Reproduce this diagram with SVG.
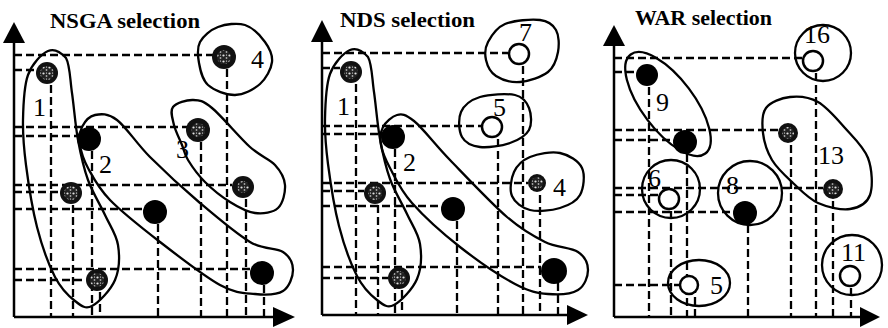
<svg xmlns="http://www.w3.org/2000/svg" width="888" height="328" viewBox="0 0 888 328">
<style>
.title{font-family:"Liberation Serif","Times New Roman",serif;font-weight:bold;font-size:20px;fill:#000}
.lbl{font-family:"Liberation Serif","Times New Roman",serif;font-size:26px;fill:#000}
.axis{stroke:#000;stroke-width:2.5;fill:none}
.arr{fill:#000}
.dash{stroke:#000;stroke-width:2.3;stroke-dasharray:8 4;fill:none}
.loop{stroke:#000;stroke-width:2.3;fill:none}
.blk{fill:#000}
.gry{fill:#111}
.spk{fill:url(#spk)}
.open{fill:#fff;stroke:#000;stroke-width:2.5}
</style>
<defs>
<pattern id="spk" width="6" height="6" patternUnits="userSpaceOnUse">
<rect width="6" height="6" fill="#222"/>
<circle cx="1.5" cy="1.5" r="1.1" fill="#e0e0e0"/>
<circle cx="4.5" cy="4" r="0.9" fill="#aaa"/>
<circle cx="4.5" cy="1" r="0.6" fill="#fff"/>
</pattern>
</defs>
<rect width="888" height="328" fill="#fff"/>

<!-- ===== Panel 1: NSGA ===== -->
<g id="panel1-axes">
<text class="title" x="50" y="28" textLength="150" lengthAdjust="spacingAndGlyphs">NSGA selection</text>
<line class="axis" x1="14" y1="40" x2="14" y2="317"/>
<polygon class="arr" points="14,22 3,43 25,43"/>
<line class="axis" x1="14" y1="317" x2="276" y2="317"/>
<polygon class="arr" points="295,317 273,307 273,327"/>
</g>
<g id="connectors">
<!-- panel 1 -->
<path class="dash" d="M14 55H214M14 70H37M14 127H187M14 136H78M14 185H232M14 192H60M14 209H143M14 269H250M14 280H86"/>
<path class="dash" d="M51 73V317M73 193V317M92 139V317M100 280V317M158 212V317M201 130V317M227 57V317M246 187V317M264 273V317"/>
<!-- panel 2 -->
<path class="dash" d="M322 53H508M322 68H340M322 126H482M322 134H381M322 183H528M322 191H364M322 206H441M322 267H541M322 278H388"/>
<path class="dash" d="M356 72V315M378 193V315M395 137V315M402 278V315M457 209V315M498 127V315M523 54V315M540 183V315M558 271V315"/>
<!-- panel 3 -->
<path class="dash" d="M614 58H802M614 72H636M614 130H778M614 140H673M614 188H823M614 195H658M614 212H733M614 285H681"/>
<path class="dash" d="M649 75V317M671 199V317M687 142V317M695 285V317M748 213V317M791 133V317M816 61V317M833 189V317M851 276V317"/>
</g>

<g id="p1-cluster1">
<path class="loop" d="M48 51C54.3 48.2 59.7 51 66 58C70 65 70 79.3 72 93C74 106.7 75.3 125.5 78 140C80.7 154.5 83.5 167.5 88 180C92.5 192.5 100 204.2 105 215C110 225.8 116.3 234.2 118 245C119.7 255.8 119.3 269.8 115 280C110.7 290.2 98.7 302.5 92 306C85.3 309.5 81.2 305.8 75 301C68.8 296.2 61.3 289.3 55 277C48.7 264.7 41.8 245.7 37 227C32.2 208.3 28.3 182.8 26 165C23.7 147.2 22.7 135 23 120C23.3 105 23.8 86.5 28 75C32.2 63.5 41.7 53.8 48 51Z"/>
<text class="lbl" x="33" y="116">1</text>
</g>
<g id="p1-cluster2">
<path class="loop" d="M82 127C84.5 122 89.2 116.2 95 115C100.8 113.8 107.8 113 117 120C126.2 127 136.2 143.2 150 157C163.8 170.8 183.3 188.8 200 203C216.7 217.2 236.2 233.8 250 242C263.8 250.2 275.8 247.3 283 252C290.2 256.7 293 263.5 293 270C293 276.5 289.3 287 283 291C276.7 295 265.5 295 255 294C244.5 293 235.8 293.7 220 285C204.2 276.3 178.3 256.2 160 242C141.7 227.8 122 212.3 110 200C98 187.7 93 177.2 88 168C83 158.8 81 151.8 80 145C79 138.2 79.5 132 82 127Z"/>
<text class="lbl" x="99" y="173">2</text>
</g>
<g id="p1-cluster3">
<path class="loop" d="M173 107C176.2 102.8 186.5 99.8 193 100C199.5 100.2 202.5 100.2 212 108C221.5 115.8 239.5 137.5 250 147C260.5 156.5 269.2 158.7 275 165C280.8 171.3 284.5 177.8 285 185C285.5 192.2 283 203.3 278 208C273 212.7 263 214 255 213C247 212 238.3 207.2 230 202C221.7 196.8 212 189 205 182C198 175 191.8 166.2 188 160C184.2 153.8 184.3 150.8 182 145C179.7 139.2 175.5 131.3 174 125C172.5 118.7 169.8 111.2 173 107Z"/>
<text class="lbl" x="176" y="158">3</text>
</g>
<g id="p1-cluster4">
<path class="loop" d="M200 42C203.2 36 210.5 29.8 218 27C225.5 24.2 237.2 22.5 245 25C252.8 27.5 260.5 35.8 265 42C269.5 48.2 272.8 55 272 62C271.2 69 266.2 78.5 260 84C253.8 89.5 243.7 94.8 235 95C226.3 95.2 214 90.3 208 85C202 79.7 200.3 70.2 199 63C197.7 55.8 196.8 48 200 42Z"/>
<text class="lbl" x="251" y="68">4</text>
</g>
<g id="p1-points">
<g id="p1-a"><circle class="gry" cx="47" cy="73" r="11"/><circle class="spk" cx="47" cy="73" r="7"/></g>
<g id="p1-b"><circle class="blk" cx="89" cy="139" r="12"/></g>
<g id="p1-c"><circle class="gry" cx="198" cy="130" r="12"/><circle class="spk" cx="198" cy="130" r="7"/></g>
<g id="p1-d"><circle class="gry" cx="224" cy="57" r="12"/><circle class="spk" cx="224" cy="57" r="7"/></g>
<g id="p1-e"><circle class="gry" cx="71" cy="193" r="11"/><circle class="spk" cx="71" cy="193" r="7"/></g>
<g id="p1-f"><circle class="blk" cx="155" cy="212" r="12"/></g>
<g id="p1-g"><circle class="gry" cx="243" cy="187" r="11"/><circle class="spk" cx="243" cy="187" r="6"/></g>
<g id="p1-h"><circle class="blk" cx="262" cy="273" r="12"/></g>
<g id="p1-i"><circle class="gry" cx="97" cy="280" r="11"/><circle class="spk" cx="97" cy="280" r="7"/></g>
</g>

<!-- ===== Panel 2: NDS ===== -->
<g id="panel2-axes">
<text class="title" x="340" y="27" textLength="135" lengthAdjust="spacingAndGlyphs">NDS selection</text>
<line class="axis" x1="322" y1="40" x2="322" y2="315"/>
<polygon class="arr" points="322,20 311,42 333,42"/>
<line class="axis" x1="322" y1="315" x2="569" y2="315"/>
<polygon class="arr" points="588,315 567,305 567,325"/>
</g>
<g id="p2-cluster1">
<path class="loop" transform="translate(302,-1)" d="M48 51C54.3 48.2 59.7 51 66 58C70 65 70 79.3 72 93C74 106.7 75.3 125.5 78 140C80.7 154.5 83.5 167.5 88 180C92.5 192.5 100 204.2 105 215C110 225.8 116.3 234.2 118 245C119.7 255.8 119.3 269.8 115 280C110.7 290.2 98.7 302.5 92 306C85.3 309.5 81.2 305.8 75 301C68.8 296.2 61.3 289.3 55 277C48.7 264.7 41.8 245.7 37 227C32.2 208.3 28.3 182.8 26 165C23.7 147.2 22.7 135 23 120C23.3 105 23.8 86.5 28 75C32.2 63.5 41.7 53.8 48 51Z"/>
<text class="lbl" x="337" y="115">1</text>
</g>
<g id="p2-cluster2">
<path class="loop" d="M383 127C385.7 122 392.2 116.3 397 115C401.8 113.7 405 114 414 121C422.8 128 434.2 143.7 450 160C465.8 176.3 491.2 203.3 507 217C522.8 230.7 533.2 236.2 545 242C556.8 247.8 570.8 247.3 578 252C585.2 256.7 588 263.7 588 270C588 276.3 584.7 286 578 290C571.3 294 558.5 295 548 294C537.5 293 529.7 291.8 515 284C500.3 276.2 477.2 260.5 460 247C442.8 233.5 423.7 216.2 412 203C400.3 189.8 395.2 177.7 390 168C384.8 158.3 382.2 151.8 381 145C379.8 138.2 380.3 132 383 127Z"/>
<text class="lbl" x="403" y="171">2</text>
</g>
<g id="p2-cluster7">
<path class="loop" d="M488 42C491.2 36 496.3 27.7 505 24C513.7 20.3 531.5 19 540 20C548.5 21 553 24.7 556 30C559 35.3 559.3 45 558 52C556.7 59 554.3 67 548 72C541.7 77 528.7 81.3 520 82C511.3 82.7 501.7 79.7 496 76C490.3 72.3 487.3 65.7 486 60C484.7 54.3 484.8 48 488 42Z"/>
<text class="lbl" x="519" y="41">7</text>
</g>
<g id="p2-cluster5">
<path class="loop" d="M461 112C464 105.3 471 99.8 480 97C489 94.2 506.8 93.2 515 95C523.2 96.8 526.7 102.2 529 108C531.3 113.8 532.2 124.2 529 130C525.8 135.8 518.2 140.2 510 143C501.8 145.8 488 148 480 147C472 146 465.2 142.8 462 137C458.8 131.2 458 118.7 461 112Z"/>
<text class="lbl" x="493" y="116">5</text>
</g>
<g id="p2-cluster4">
<path class="loop" d="M514 172C517 165.5 522.3 160.2 530 157C537.7 153.8 551.3 151.2 560 153C568.7 154.8 578.7 161 582 168C585.3 175 583.7 188.3 580 195C576.3 201.7 568.3 205.5 560 208C551.7 210.5 538 212 530 210C522 208 514.7 202.3 512 196C509.3 189.7 511 178.5 514 172Z"/>
<text class="lbl" x="553" y="196">4</text>
</g>
<g id="p2-points">
<g id="p2-a"><circle class="gry" cx="351" cy="72" r="11"/><circle class="spk" cx="351" cy="72" r="7"/></g>
<g id="p2-b"><circle class="blk" cx="393" cy="137" r="12"/></g>
<g id="p2-e"><circle class="gry" cx="375" cy="193" r="11"/><circle class="spk" cx="375" cy="193" r="7"/></g>
<g id="p2-i"><circle class="gry" cx="399" cy="278" r="11"/><circle class="spk" cx="399" cy="278" r="7"/></g>
<g id="p2-f"><circle class="blk" cx="453" cy="209" r="12"/></g>
<g id="p2-h"><circle class="blk" cx="554" cy="271" r="13"/></g>
<g id="p2-g"><circle class="gry" cx="537" cy="183" r="9"/><circle class="spk" cx="537" cy="183" r="6"/></g>
<g id="p2-o7"><circle class="open" cx="519" cy="54" r="10"/></g>
<g id="p2-o5"><circle class="open" cx="492" cy="127" r="10"/></g>
</g>

<!-- ===== Panel 3: WAR ===== -->
<g id="panel3-axes">
<text class="title" x="635" y="25" textLength="137" lengthAdjust="spacingAndGlyphs">WAR selection</text>
<line class="axis" x1="614" y1="44" x2="614" y2="317"/>
<polygon class="arr" points="614,25 603,46 625,46"/>
<line class="axis" x1="614" y1="317" x2="862" y2="317"/>
<polygon class="arr" points="880,317 860,307 860,327"/>
</g>
<g id="p3-cluster9">
<ellipse class="loop" cx="668" cy="104" rx="62" ry="26" transform="rotate(53 668 104)"/>
<text class="lbl" x="656" y="111">9</text>
</g>
<g id="p3-cluster16">
<circle class="loop" cx="823" cy="53" r="28"/>
<text class="lbl" x="804" y="43">16</text>
</g>
<g id="p3-cluster13">
<path class="loop" d="M766 108C770.5 102 781.3 98 790 97C798.7 96 808.8 96.8 818 102C827.2 107.2 836.7 118.7 845 128C853.3 137.3 863.8 146.8 868 158C872.2 169.2 873 186.5 870 195C867 203.5 858.7 207.7 850 209C841.3 210.3 827.5 207.3 818 203C808.5 198.7 800.7 190.2 793 183C785.3 175.8 777 168.3 772 160C767 151.7 764 141.7 763 133C762 124.3 761.5 114 766 108Z"/>
<text class="lbl" x="818" y="164">13</text>
</g>
<g id="p3-cluster6">
<circle class="loop" cx="671" cy="189" r="29"/>
</g>
<g id="p3-cluster8">
<circle class="loop" cx="750" cy="193" r="32"/>
<text class="lbl" x="726" y="194">8</text>
</g>
<g id="p3-cluster5">
<ellipse class="loop" cx="699" cy="283" rx="31" ry="23"/>
<text class="lbl" x="710" y="294">5</text>
</g>
<g id="p3-cluster11">
<circle class="loop" cx="852" cy="265" r="30"/>
<text class="lbl" x="841" y="261">11</text>
</g>
<g id="p3-points">
<g id="p3-9a"><circle class="blk" cx="647" cy="75" r="11"/></g>
<g id="p3-9b"><circle class="blk" cx="685" cy="142" r="12"/></g>
<g id="p3-16"><circle class="open" cx="813" cy="61" r="10"/></g>
<g id="p3-13a"><circle class="gry" cx="788" cy="133" r="10"/><circle class="spk" cx="788" cy="133" r="6"/></g>
<g id="p3-13b"><circle class="gry" cx="833" cy="189" r="10"/><circle class="spk" cx="833" cy="189" r="6"/></g>
<g id="p3-6"><circle class="open" cx="669" cy="199" r="10"/><text class="lbl" x="648" y="187">6</text></g>
<g id="p3-8"><circle class="blk" cx="745" cy="213" r="12"/></g>
<g id="p3-5"><circle class="open" cx="689" cy="285" r="9"/></g>
<g id="p3-11"><circle class="open" cx="850" cy="276" r="10"/></g>
</g>
</svg>
